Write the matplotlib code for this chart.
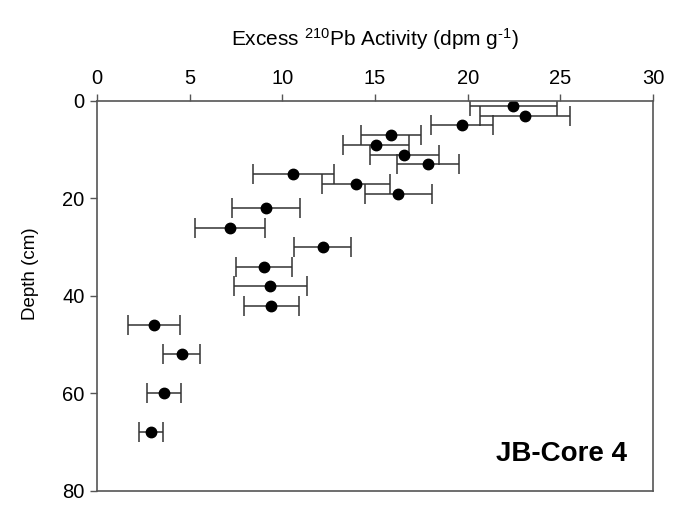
import matplotlib
matplotlib.use("Agg")
import matplotlib.pyplot as plt

plt.rcParams["font.family"] = ["Liberation Sans", "DejaVu Sans"]
plt.rcParams["mathtext.fontset"] = "custom"
plt.rcParams["mathtext.rm"] = "Liberation Sans"
plt.rcParams["mathtext.it"] = "Liberation Sans:italic"

# depth (cm) and excess 210Pb activity (dpm/g) with +/- error
depth = [1, 3, 5, 7, 9, 11, 13, 15, 17, 19, 22, 26, 30, 34, 38, 42, 46, 52, 60, 68]
activity = [22.46, 23.09, 19.70, 15.87, 15.04, 16.58, 17.88, 10.60, 13.96, 16.25,
            9.12, 7.19, 12.17, 9.00, 9.36, 9.41, 3.06, 4.57, 3.62, 2.93]
error = [2.35, 2.43, 1.68, 1.62, 1.78, 1.86, 1.67, 2.20, 1.83, 1.80,
         1.83, 1.90, 1.56, 1.52, 1.98, 1.50, 1.40, 1.00, 0.93, 0.65]

x_ticks = [0, 5, 10, 15, 20, 25, 30]
y_ticks = [0, 20, 40, 60, 80]

fig = plt.figure(figsize=(6.77, 5.07), dpi=100)
ax = fig.add_axes([0.1433, 0.0316, 0.8213, 0.7692])

ax.errorbar(activity, depth, xerr=error, fmt="o", color="black", ecolor="#333333",
            elinewidth=1.1, capsize=7, capthick=1.1, markersize=7.5)

ax.set_xlim(0, 30)
ax.set_ylim(80, 0)
ax.set_xticks(x_ticks)
ax.set_yticks(y_ticks)
ax.xaxis.tick_top()
ax.xaxis.set_label_position("top")
ax.tick_params(axis="both", direction="out", length=5, width=1, color="#555555",
               labelsize=14.5, pad=4)
for sp in ax.spines.values():
    sp.set_color("#555555")
    sp.set_linewidth(1.2)

ax.set_xlabel(r"Excess $\mathregular{^{210}}$Pb Activity (dpm g$\mathregular{^{\text{-}1}}$)",
              fontsize=15, labelpad=17)
ax.set_ylabel("Depth (cm)", fontsize=13.5)
ax.yaxis.set_label_coords(-0.104, 0.556)

ax.text(0.953, 0.095, "JB-Core 4", transform=ax.transAxes, ha="right", va="center",
        fontsize=20, fontweight="bold")

fig.savefig("out.png", dpi=100)
